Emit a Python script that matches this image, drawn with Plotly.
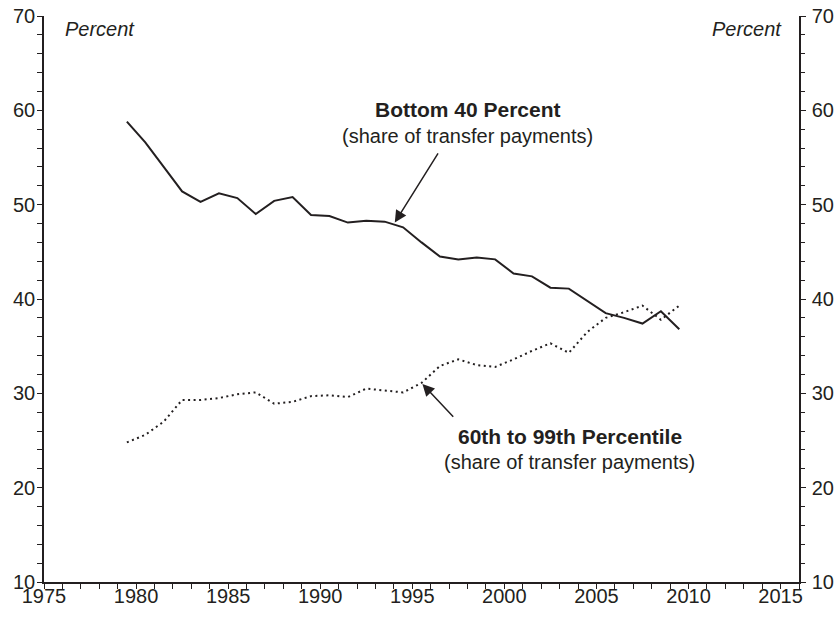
import plotly.graph_objects as go

years = list(range(1979, 2010))
bottom_40 = [58.8, 56.6, 54.0, 51.4, 50.3, 51.2, 50.7, 49.0, 50.4, 50.8, 48.9,
             48.8, 48.1, 48.3, 48.2, 47.6, 46.0, 44.5, 44.2, 44.4, 44.2, 42.7,
             42.4, 41.2, 41.1, 39.8, 38.5, 38.0, 37.4, 38.7, 36.8]
p60_99 = [24.8, 25.6, 27.0, 29.3, 29.3, 29.5, 29.9, 30.1, 28.9, 29.1, 29.7,
          29.8, 29.6, 30.5, 30.3, 30.1, 31.1, 32.9, 33.6, 33.0, 32.8, 33.6,
          34.5, 35.3, 34.3, 36.5, 38.0, 38.6, 39.3, 37.8, 39.3]
x_ticks = [1975, 1980, 1985, 1990, 1995, 2000, 2005, 2010, 2015]
y_ticks = [10, 20, 30, 40, 50, 60, 70]

# values are annual; plotted at mid-year
xs = [y + 0.5 for y in years]

INK = "#231f20"
FONT = "Liberation Sans, Arial, Helvetica, sans-serif"

fig = go.Figure()
fig.add_trace(go.Scatter(x=xs, y=bottom_40, mode="lines",
                         line=dict(color=INK, width=2), showlegend=False))
fig.add_trace(go.Scatter(x=xs, y=p60_99, mode="lines",
                         line=dict(color=INK, width=2, dash="2px,3.5px"),
                         showlegend=False))
# invisible copy so the right-hand percent axis is drawn
fig.add_trace(go.Scatter(x=xs, y=bottom_40, mode="lines", yaxis="y2",
                         line=dict(width=0), opacity=0, hoverinfo="skip",
                         showlegend=False))

axis_common = dict(showgrid=False, zeroline=False, showline=True,
                   linecolor=INK, linewidth=1.5, ticks="outside",
                   ticklen=5, tickwidth=1.3, tickcolor=INK, automargin=False,
                   ticklabeloverflow="allow",
                   tickfont=dict(family=FONT, size=20, color=INK))

fig.update_layout(
    width=840, height=619,
    margin=dict(l=44, r=41, t=16, b=37),
    paper_bgcolor="white", plot_bgcolor="white",
    xaxis=dict(range=[1975, 2016], tickvals=x_ticks, ticklabelstandoff=-10,
               minor=dict(dtick=1, tick0=1975, ticks="outside", ticklen=5,
                          tickwidth=1.3, tickcolor=INK),
               **axis_common),
    yaxis=dict(range=[10, 70], tickvals=y_ticks, ticklabelstandoff=-2,
               minor=dict(dtick=2, tick0=10, ticks="outside", ticklen=5,
                          tickwidth=1.3, tickcolor=INK),
               **axis_common),
    yaxis2=dict(range=[10, 70], tickvals=y_ticks, overlaying="y",
                side="right", anchor="x", ticklabelstandoff=2,
                minor=dict(dtick=2, tick0=10, ticks="outside", ticklen=4,
                           tickwidth=1.3, tickcolor=INK),
                **axis_common),
)

# Percent labels
fig.add_annotation(text="<i>Percent</i>", xref="paper", yref="paper",
                   x=0.025, y=0.977, xanchor="left", yanchor="middle",
                   showarrow=False, font=dict(family=FONT, size=20, color=INK))
fig.add_annotation(text="<i>Percent</i>", xref="paper", yref="paper",
                   x=0.98, y=0.977, xanchor="right", yanchor="middle",
                   showarrow=False, font=dict(family=FONT, size=20, color=INK))

# Series labels
fig.add_annotation(text="<b>Bottom 40 Percent</b>", x=1998.0, y=60.1,
                   showarrow=False, font=dict(family=FONT, size=21, color=INK))
fig.add_annotation(text="(share of transfer payments)", x=1998.0, y=57.3,
                   showarrow=False, font=dict(family=FONT, size=20, color=INK))
fig.add_annotation(text="<b>60th to 99th Percentile</b>", x=2003.55, y=25.4,
                   showarrow=False, font=dict(family=FONT, size=21, color=INK))
fig.add_annotation(text="(share of transfer payments)", x=2003.55, y=22.7,
                   showarrow=False, font=dict(family=FONT, size=20, color=INK))

# Arrows
fig.add_annotation(text="", x=1994.05, y=48.1, ax=1996.45, ay=55.6,
                   axref="x", ayref="y", showarrow=True, arrowhead=2,
                   arrowsize=1.6, arrowwidth=1.5, arrowcolor=INK)
fig.add_annotation(text="", x=1995.55, y=31.0, ax=1997.3, ay=27.35,
                   axref="x", ayref="y", showarrow=True, arrowhead=2,
                   arrowsize=1.6, arrowwidth=1.5, arrowcolor=INK)

fig.write_html("out.html",
               config={"displayModeBar": False},
               post_script="document.body.style.margin='0';"
                           "document.body.style.overflow='hidden';")
